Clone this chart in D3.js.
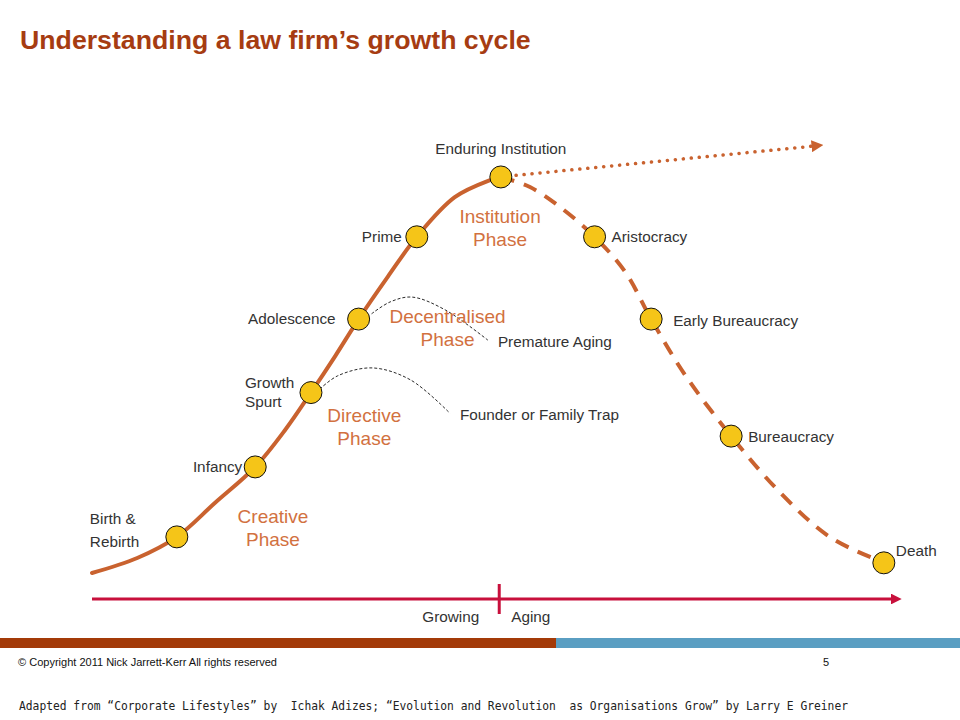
<!DOCTYPE html>
<html>
<head>
<meta charset="utf-8">
<script src="https://cdn.jsdelivr.net/npm/d3@7"></script>
<style>
  html, body { margin: 0; padding: 0; background: #fff; }
  svg { display: block; }
</style>
</head>
<body>
<svg id="chart" width="960" height="720"></svg>
<script>
// ---------------- DATA ----------------
const titleText = "Understanding a law firm\u2019s growth cycle";

// life-cycle stages (x = time 0..100, y = vitality 0..100)
const stageNames = ["Birth & Rebirth", "Infancy", "Growth Spurt", "Adolescence", "Prime",
                    "Enduring Institution", "Aristocracy", "Early Bureaucracy", "Bureaucracy", "Death"];
const stageTime  = [10.5, 20.2, 27.1, 33.0, 40.2, 50.6, 62.2, 69.2, 79.1, 98.0];
const stageLevel = [ 9.8, 25.7, 42.6, 59.3, 78.0, 91.6, 78.0, 59.3, 32.7,  3.9];

// growing curve (solid)
const growTime  = [0, 5.6, 10.5, 15.2, 20.2, 23.9, 27.1, 30.1, 33.0, 36.6, 40.2, 44.9, 49.3, 50.6];
const growLevel = [1.6, 5.0, 9.8, 17.5, 25.7, 34.1, 42.6, 50.9, 59.3, 68.9, 78.0, 87.0, 90.9, 91.6];

// aging curve (dashed)
const ageTime  = [50.6, 54.2, 57.9, 62.2, 66.0, 69.2, 73.4, 79.1, 85.1, 91.3, 98.0, 100];
const ageLevel = [91.6, 89.3, 84.8, 78.0, 70.0, 59.3, 46.6, 32.7, 20.0,  9.8,  3.9, 2.3];

// enduring path (dotted)
const endureTime  = [51.5, 89.2];
const endureLevel = [91.8, 98.6];

// traps (thin dashed)
const founderTime  = [28.2, 30.4, 34.7, 39.4, 44.3];
const founderLevel = [43.4, 46.4, 48.2, 45.5, 37.9];
const prematureTime  = [34.6, 36.9, 39.6, 43.7, 49.0];
const prematureLevel = [60.5, 63.2, 64.3, 61.4, 54.5];
const trapNames = ["Founder or Family Trap", "Premature Aging"];

// phases
const phaseNames = [["Creative", "Phase"], ["Directive", "Phase"], ["Decentralised", "Phase"], ["Institution", "Phase"]];
const phaseTime  = [22.4, 33.7, 44.0, 50.5];
const phaseLevel = [11.3, 34.3, 56.8, 79.5];

// time axis
const axisLabels = ["Growing", "Aging"];
const axisSplit = 50.4;

const copyright = "\u00A9 Copyright 2011 Nick Jarrett-Kerr All rights reserved";
const pageNumber = "5";
const sourceText = "Adapted from \u201CCorporate Lifestyles\u201D by  Ichak Adizes; \u201CEvolution and Revolution  as Organisations Grow\u201D by Larry E Greiner";

// ---------------- DRAW ----------------
const svg = d3.select("#chart");
const x = d3.scaleLinear().domain([0, 100]).range([92, 900]);
const y = d3.scaleLinear().domain([0, 100]).range([580, 140]);

const ORANGE = "#C9622F";
const PHASE = "#D2713F";
const TEXT = "#333333";
const FONT = "'Liberation Sans', Arial, sans-serif";
const NARROW = "'Liberation Sans Narrow', 'Arial Narrow', 'Liberation Sans', Arial, sans-serif";

svg.append("defs").append("marker")
  .attr("id", "tri").attr("viewBox", "0 0 10 10").attr("refX", 1).attr("refY", 5)
  .attr("markerWidth", 3.4).attr("markerHeight", 3.4).attr("orient", "auto")
  .attr("markerUnits", "strokeWidth")
  .append("path").attr("d", "M0,0 L10,5 L0,10 Z").attr("fill", ORANGE);

svg.select("defs").append("marker")
  .attr("id", "redtri").attr("viewBox", "0 0 10 10").attr("refX", 1).attr("refY", 5)
  .attr("markerWidth", 3.6).attr("markerHeight", 3.6).attr("orient", "auto")
  .attr("markerUnits", "strokeWidth")
  .append("path").attr("d", "M0,0 L10,5 L0,10 Z").attr("fill", "#C8103C");

// title
svg.append("text").attr("x", 20).attr("y", 49)
  .attr("font-family", FONT).attr("font-weight", "bold").attr("font-size", 26.7)
  .attr("fill", "#A63C12").text(titleText);

const zip = (a, b) => a.map((v, i) => [v, b[i]]);
const line = d3.line().x(d => x(d[0])).y(d => y(d[1])).curve(d3.curveCatmullRom.alpha(0.5));

// thin dashed trap curves
[[founderTime, founderLevel], [prematureTime, prematureLevel]].forEach(([t, l]) => {
  svg.append("path").attr("d", line(zip(t, l)))
    .attr("fill", "none").attr("stroke", "#111").attr("stroke-width", 0.9)
    .attr("stroke-dasharray", "3 2");
});

// dotted enduring path
svg.append("path").attr("d", d3.line().x(d => x(d[0])).y(d => y(d[1]))(zip(endureTime, endureLevel)))
  .attr("fill", "none").attr("stroke", ORANGE).attr("stroke-width", 3.5)
  .attr("stroke-linecap", "round").attr("stroke-dasharray", "0.1 7.9")
  .attr("marker-end", "url(#tri)");

// aging curve (dashed)
svg.append("path").attr("d", line(zip(ageTime, ageLevel)))
  .attr("fill", "none").attr("stroke", ORANGE).attr("stroke-width", 4)
  .attr("stroke-dasharray", "14 10");

// growing curve (solid)
svg.append("path").attr("d", line(zip(growTime, growLevel)))
  .attr("fill", "none").attr("stroke", ORANGE).attr("stroke-width", 4)
  .attr("stroke-linecap", "round");

// phase labels
phaseNames.forEach((lines, i) => {
  const t = svg.append("text").attr("font-family", FONT).attr("font-size", 19)
    .attr("fill", PHASE).attr("text-anchor", "middle");
  lines.forEach((s, k) => {
    t.append("tspan").attr("x", x(phaseTime[i])).attr("y", y(phaseLevel[i]) - 7 + k * 22.5).text(s);
  });
});

// stage circles
const stages = stageNames.map((n, i) => ({ name: n, cx: x(stageTime[i]), cy: y(stageLevel[i]), i }));
svg.selectAll("circle.stage").data(stages).enter().append("circle")
  .attr("class", "stage").attr("cx", d => d.cx).attr("cy", d => d.cy).attr("r", 11)
  .attr("fill", "#F5C518").attr("stroke", "#111").attr("stroke-width", 1);

// stage labels
function placeLabel(d) {
  const g = svg.append("text").attr("font-family", FONT).attr("font-size", 15.3).attr("fill", TEXT);
  const n = d.name;
  if (n === "Birth & Rebirth") {
    g.append("tspan").attr("x", d.cx - 87).attr("y", d.cy - 13).text("Birth &");
    g.append("tspan").attr("x", d.cx - 87).attr("y", d.cy + 10).text("Rebirth");
  } else if (n === "Growth Spurt") {
    g.append("tspan").attr("x", d.cx - 66).attr("y", d.cy - 5).text("Growth");
    g.append("tspan").attr("x", d.cx - 66).attr("y", d.cy + 14).text("Spurt");
  } else if (n === "Enduring Institution") {
    g.attr("text-anchor", "middle").attr("x", d.cx).attr("y", d.cy - 23).text(n);
  } else if (n === "Infancy") {
    g.attr("text-anchor", "end").attr("x", d.cx - 13).attr("y", d.cy + 5).text(n);
  } else if (n === "Adolescence") {
    g.attr("text-anchor", "end").attr("x", d.cx - 23).attr("y", d.cy + 5).text(n);
  } else if (n === "Prime") {
    g.attr("text-anchor", "end").attr("x", d.cx - 15).attr("y", d.cy + 5).text(n);
  } else if (n === "Aristocracy") {
    g.attr("x", d.cx + 17).attr("y", d.cy + 5).text(n);
  } else if (n === "Early Bureaucracy") {
    g.attr("x", d.cx + 22).attr("y", d.cy + 7).text(n);
  } else if (n === "Bureaucracy") {
    g.attr("x", d.cx + 17).attr("y", d.cy + 6).text(n);
  } else if (n === "Death") {
    g.attr("x", d.cx + 12).attr("y", d.cy - 7).text(n);
  }
}
stages.forEach(placeLabel);

// trap labels (at end of each trap curve)
[[founderTime, founderLevel], [prematureTime, prematureLevel]].forEach(([t, l], i) => {
  const ex = x(t[t.length - 1]), ey = y(l[l.length - 1]);
  svg.append("text").attr("font-family", FONT).attr("font-size", 15.3).attr("fill", TEXT)
    .attr("x", ex + 10).attr("y", ey + 7).text(trapNames[i]);
});

// time axis
svg.append("line").attr("x1", x(0)).attr("x2", x(100) - 8).attr("y1", 599).attr("y2", 599)
  .attr("stroke", "#C8103C").attr("stroke-width", 3).attr("marker-end", "url(#redtri)");
svg.append("line").attr("x1", x(axisSplit)).attr("x2", x(axisSplit)).attr("y1", 584).attr("y2", 614)
  .attr("stroke", "#C8103C").attr("stroke-width", 3);
svg.append("text").attr("font-family", FONT).attr("font-size", 15.3).attr("fill", TEXT)
  .attr("text-anchor", "end").attr("x", x(axisSplit) - 20).attr("y", 622).text(axisLabels[0]);
svg.append("text").attr("font-family", FONT).attr("font-size", 15.3).attr("fill", TEXT)
  .attr("x", x(axisSplit) + 12).attr("y", 622).text(axisLabels[1]);

// footer bars
svg.append("rect").attr("x", 0).attr("y", 638).attr("width", 556).attr("height", 10).attr("fill", "#A33A08");
svg.append("rect").attr("x", 556).attr("y", 638).attr("width", 404).attr("height", 10).attr("fill", "#5A9EC2");

svg.append("text").attr("font-family", NARROW).attr("font-size", 10.5).attr("fill", "#111")
  .attr("x", 18).attr("y", 666).attr("textLength", 259).attr("lengthAdjust", "spacingAndGlyphs").text(copyright);
svg.append("text").attr("font-family", NARROW).attr("font-size", 11).attr("fill", "#111")
  .attr("x", 823).attr("y", 666).text(pageNumber);
svg.append("text").attr("font-family", "'DejaVu Sans Mono', monospace").attr("font-size", 12).attr("fill", "#222")
  .attr("x", 19).attr("y", 710).attr("textLength", 829).attr("lengthAdjust", "spacingAndGlyphs")
  .attr("xml:space", "preserve").text(sourceText);
</script>
</body>
</html>
